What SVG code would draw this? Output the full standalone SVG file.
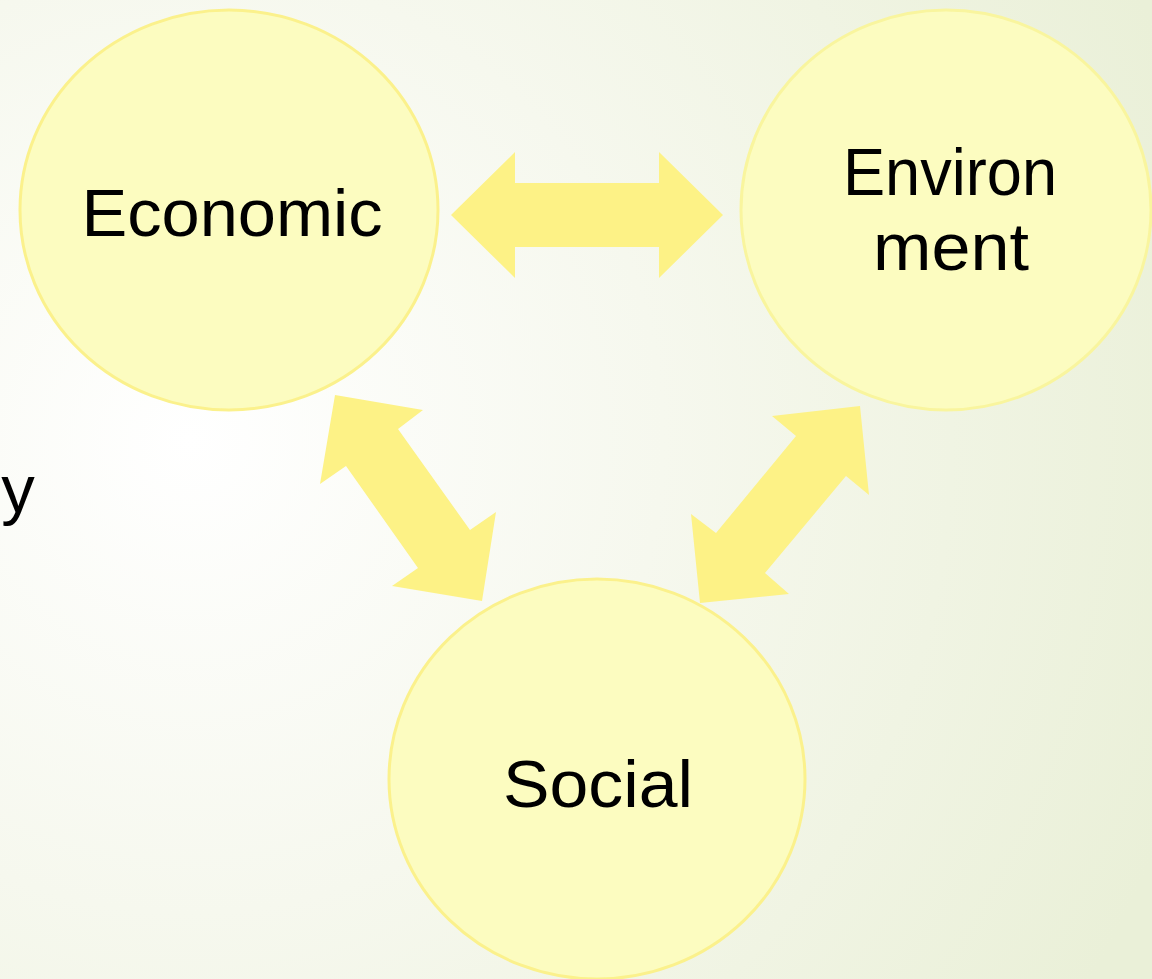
<svg xmlns="http://www.w3.org/2000/svg" width="1152" height="979" viewBox="0 0 1152 979">
  <defs>
    <radialGradient id="bg" cx="190" cy="440" r="1050" gradientUnits="userSpaceOnUse">
      <stop offset="0" stop-color="#ffffff"/>
      <stop offset="0.45" stop-color="#f6f8ee"/>
      <stop offset="1" stop-color="#eaf0d8"/>
    </radialGradient>
    <style>
      .circle { fill: #fcfcc0; stroke: #fbf18c; stroke-width: 3; }
      .arrow { fill: #fdf286; stroke: none; }
      .label { font-family: "Liberation Sans", Arial, sans-serif; font-size: 67px; fill: #000000; text-anchor: middle; }
    </style>
  </defs>

  <!-- slide background -->
  <rect x="0" y="0" width="1152" height="979" fill="url(#bg)"/>

  <!-- clipped-off word from the left text box -->
  <text x="18" y="512" class="label">y</text>

  <!-- connectors: double-headed block arrows -->
  <g id="connectors">
    <polygon class="arrow" points="451,215 515,152 515,183 659,183 659,152 723,215 659,278 659,247 515,247 515,278"/>
    <polygon class="arrow" points="335,395 423,410 398,429 470,530 496,512 482,601 392,586 418,568 346,466 320,484"/>
    <polygon class="arrow" points="860,406 869,495 846,476 765,573 789,594 700,603 691,514 716,533 796,436 772,416"/>
  </g>

  <g id="node-economic">
    <ellipse class="circle" cx="229" cy="210" rx="209" ry="200"/>
    <text x="232" y="236" class="label" textLength="301" lengthAdjust="spacingAndGlyphs">Economic</text>
  </g>

  <g id="node-environment">
    <ellipse class="circle" cx="946" cy="210" rx="205" ry="200" style="stroke:#f9f59e"/>
    <text x="950" y="195" class="label" textLength="214" lengthAdjust="spacingAndGlyphs">Environ</text>
    <text x="951" y="270" class="label" textLength="156" lengthAdjust="spacingAndGlyphs">ment</text>
  </g>

  <g id="node-social">
    <ellipse class="circle" cx="597" cy="779" rx="208" ry="200"/>
    <text x="598" y="807" class="label" textLength="190" lengthAdjust="spacingAndGlyphs">Social</text>
  </g>
</svg>
